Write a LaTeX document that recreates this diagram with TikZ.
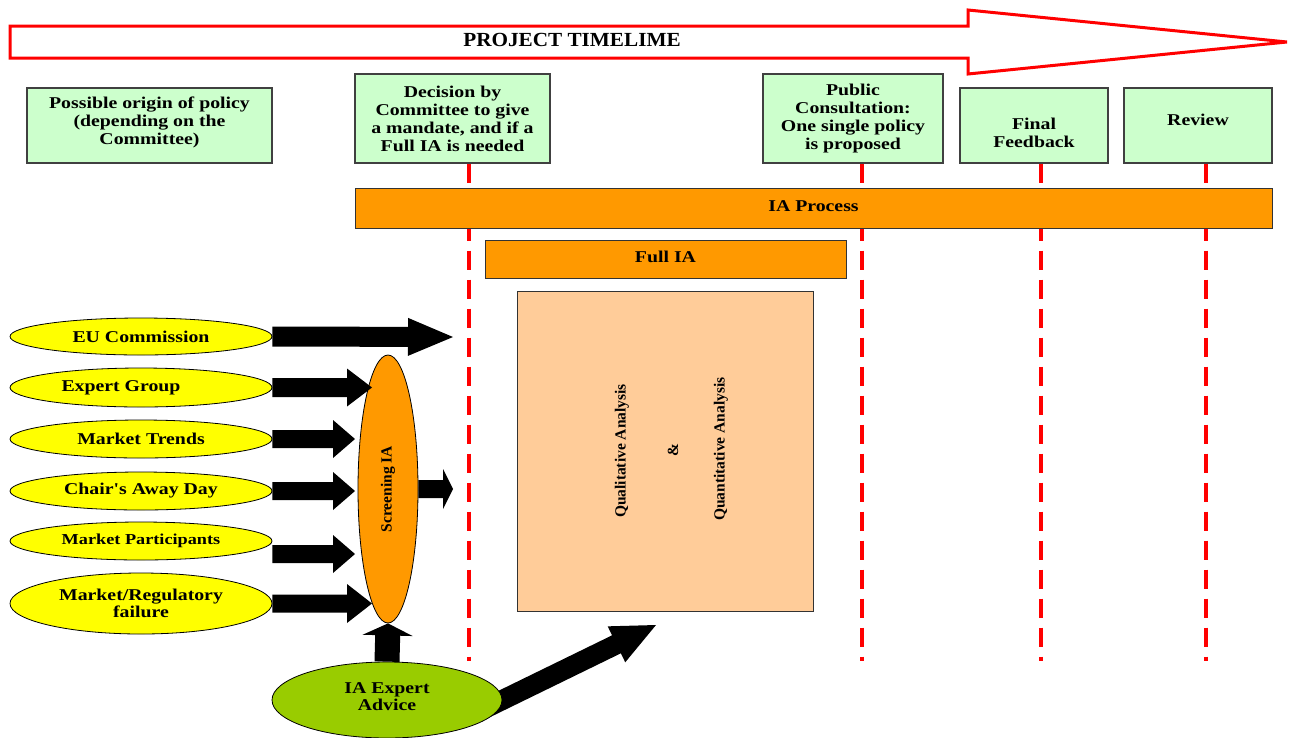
\documentclass[tikz,border=0pt]{standalone}
\usepackage{fontspec}
\setmainfont{Liberation Serif}
\newfontfamily\wbf{Liberation Serif}[FakeStretch=1.2]
\newfontfamily\tbf{Liberation Serif}[FakeStretch=1.06]
\newfontfamily\rbf{Liberation Serif}
\usetikzlibrary{shapes.geometric,calc}
\definecolor{boxgreen}{HTML}{CCFFCC}
\definecolor{barorange}{HTML}{FF9900}
\definecolor{peach}{HTML}{FFCC99}
\definecolor{ellyellow}{HTML}{FFFF00}
\definecolor{olive}{HTML}{99CC00}
\pgfdeclarelayer{bg}
\pgfsetlayers{bg,main}
\newcommand\blkarrow[5]{%
  \coordinate (bah) at ($(#2)!#5!(#1)$);
  \fill[black] ($(#1)!#3!90:(#2)$) -- ($(bah)!#3!90:(#2)$) -- ($(bah)!#4!90:(#2)$) -- (#2)
    -- ($(bah)!#4!-90:(#2)$) -- ($(bah)!#3!-90:(#2)$) -- ($(#1)!#3!-90:(#2)$) -- cycle;}
\tikzset{
  gbox/.style={draw=black!75, line width=1.3pt, fill=boxgreen, align=center, inner sep=0pt,
    font=\wbf\bfseries\fontsize{16.5}{18}\selectfont},
  yell/.style={ellipse, draw=black, line width=0.8pt, fill=ellyellow, minimum width=262pt,
    inner sep=0pt, align=center, font=\wbf\bfseries\fontsize{16.5}{17}\selectfont},
  bar/.style={draw=black!80, line width=1pt, fill=barorange, inner sep=0pt,
    font=\wbf\bfseries\fontsize{16.5}{18}\selectfont},
  rtext/.style={rotate=90, inner sep=0pt, font=\rbf\bfseries\fontsize{15.5}{17}\selectfont},
  redd/.style={red, line width=4pt, dash pattern=on 19pt off 10pt}
}
\begin{document}
\begin{tikzpicture}[x=1pt,y=-1pt]
\useasboundingbox (0,0) rectangle (1295,737);
% timeline arrow
\draw[red, line width=3pt, fill=white] (10,26) -- (968,26) -- (968,10) -- (1287,42) -- (968,74) -- (968,58) -- (10,58) -- cycle;
\node[font=\tbf\bfseries\fontsize{20}{22}\selectfont] (tl) at (572,40) {PROJECT TIMELIME};
% green boxes
\node[gbox, minimum width=245pt, minimum height=75pt] (orig) at (149.5,125.5) {Possible origin of policy\\(depending on the\\Committee)\rule[-9.5pt]{0pt}{9.5pt}};
\node[gbox, minimum width=195pt, minimum height=89pt] (dec) at (452.5,118.5) {Decision by\\Committee to give\\a mandate, and if a\\Full IA is needed};
\node[gbox, minimum width=180pt, minimum height=89pt] (pub) at (853,118.5) {Public\\Consultation:\\One single policy\\is proposed};
\node[gbox, minimum width=148pt, minimum height=75pt] (ffb) at (1034,125.5) {\rule{0pt}{27pt}Final\\Feedback};
\node[gbox, minimum width=148pt, minimum height=75pt] (rev) at (1198,125.5) {Review\rule[-11pt]{0pt}{11pt}};
% bars and analysis box
\node[bar, minimum width=917pt, minimum height=40pt] (iap) at (813.5,208) {IA Process\rule[-4pt]{0pt}{4pt}};
\node[bar, minimum width=361pt, minimum height=38pt] (fia) at (665.5,259) {Full IA\rule[-4pt]{0pt}{4pt}};
\node[draw=black!80, line width=1pt, fill=peach, minimum width=296pt, minimum height=320pt] (ana) at (665,451) {};
\node[rtext] (qual) at (622,451) {Qualitative Analysis};
\node[rtext] (amp) at (673,450) {\&};
\node[rtext] (quant) at (721,449) {Quantitative Analysis};
% origin ellipses
\node[yell, minimum height=37pt] (eu) at (141,336.5) {EU Commission};
\node[yell, minimum height=39pt] (exp) at (141,387.5) {Expert Group\hspace*{40pt}};
\node[yell, minimum height=38pt] (trd) at (141,439) {Market Trends};
\node[yell, minimum height=38pt] (chr) at (141,491) {Chair's Away Day};
\node[yell, minimum height=38pt, font=\wbf\bfseries\fontsize{15.2}{17}\selectfont] (par) at (141,541) {Market Participants};
\node[yell, minimum height=61pt] (mr) at (141,603.5) {Market/Regulatory\\failure};
% screening and expert advice
\node[ellipse, draw=black, line width=0.8pt, fill=barorange, minimum width=60pt, minimum height=268pt, inner sep=0pt] (scr) at (388,489) {};
\node[rtext] (scrT) at (scr) {Screening IA};
\node[ellipse, draw=black, line width=0.8pt, fill=olive, minimum width=230pt, minimum height=76pt, inner sep=0pt, align=center, font=\wbf\bfseries\fontsize{16.5}{17}\selectfont] (iae) at (387,700) {IA Expert\\Advice\rule[-6pt]{0pt}{6pt}};
% free ends
\coordinate (euT) at (453,337);
\coordinate (expT) at (372,387.5);
\coordinate (trdT) at (355,439);
\coordinate (chrT) at (355,491);
\coordinate (parS) at ([yshift=-13pt]par.east);
\coordinate (parT) at (355,554);
\coordinate (mrT) at (372,603.5);
\coordinate (scrO) at (453,489);
\coordinate (diagT) at (656,625);
\coordinate (diagS) at ($(iae.east)!-20pt!(diagT)$);
% background: dashed red lines and arrows leaving IA Expert Advice
\begin{pgfonlayer}{bg}
\draw[redd] ([xshift=16.5pt]dec.south) -- ++(0,497);
\draw[redd] ([xshift=9pt]pub.south) -- ++(0,497);
\draw[redd] ([xshift=7pt]ffb.south) -- ++(0,497);
\draw[redd] ([xshift=8pt]rev.south) -- ++(0,497);
\blkarrow{iae.north}{scr.south}{12.5pt}{25pt}{12pt}
\blkarrow{diagS}{diagT}{10pt}{20pt}{44pt}
\end{pgfonlayer}
% block arrows
\blkarrow{eu.east}{euT}{10pt}{19pt}{45pt}
\blkarrow{exp.east}{expT}{9.5pt}{19pt}{25pt}
\blkarrow{trd.east}{trdT}{9pt}{19pt}{22pt}
\blkarrow{chr.east}{chrT}{9pt}{19pt}{22pt}
\blkarrow{parS}{parT}{9pt}{19pt}{22pt}
\blkarrow{mr.east}{mrT}{9pt}{19.5pt}{25pt}
\blkarrow{scr.east}{scrO}{9pt}{20pt}{10pt}
\end{tikzpicture}
\end{document}
